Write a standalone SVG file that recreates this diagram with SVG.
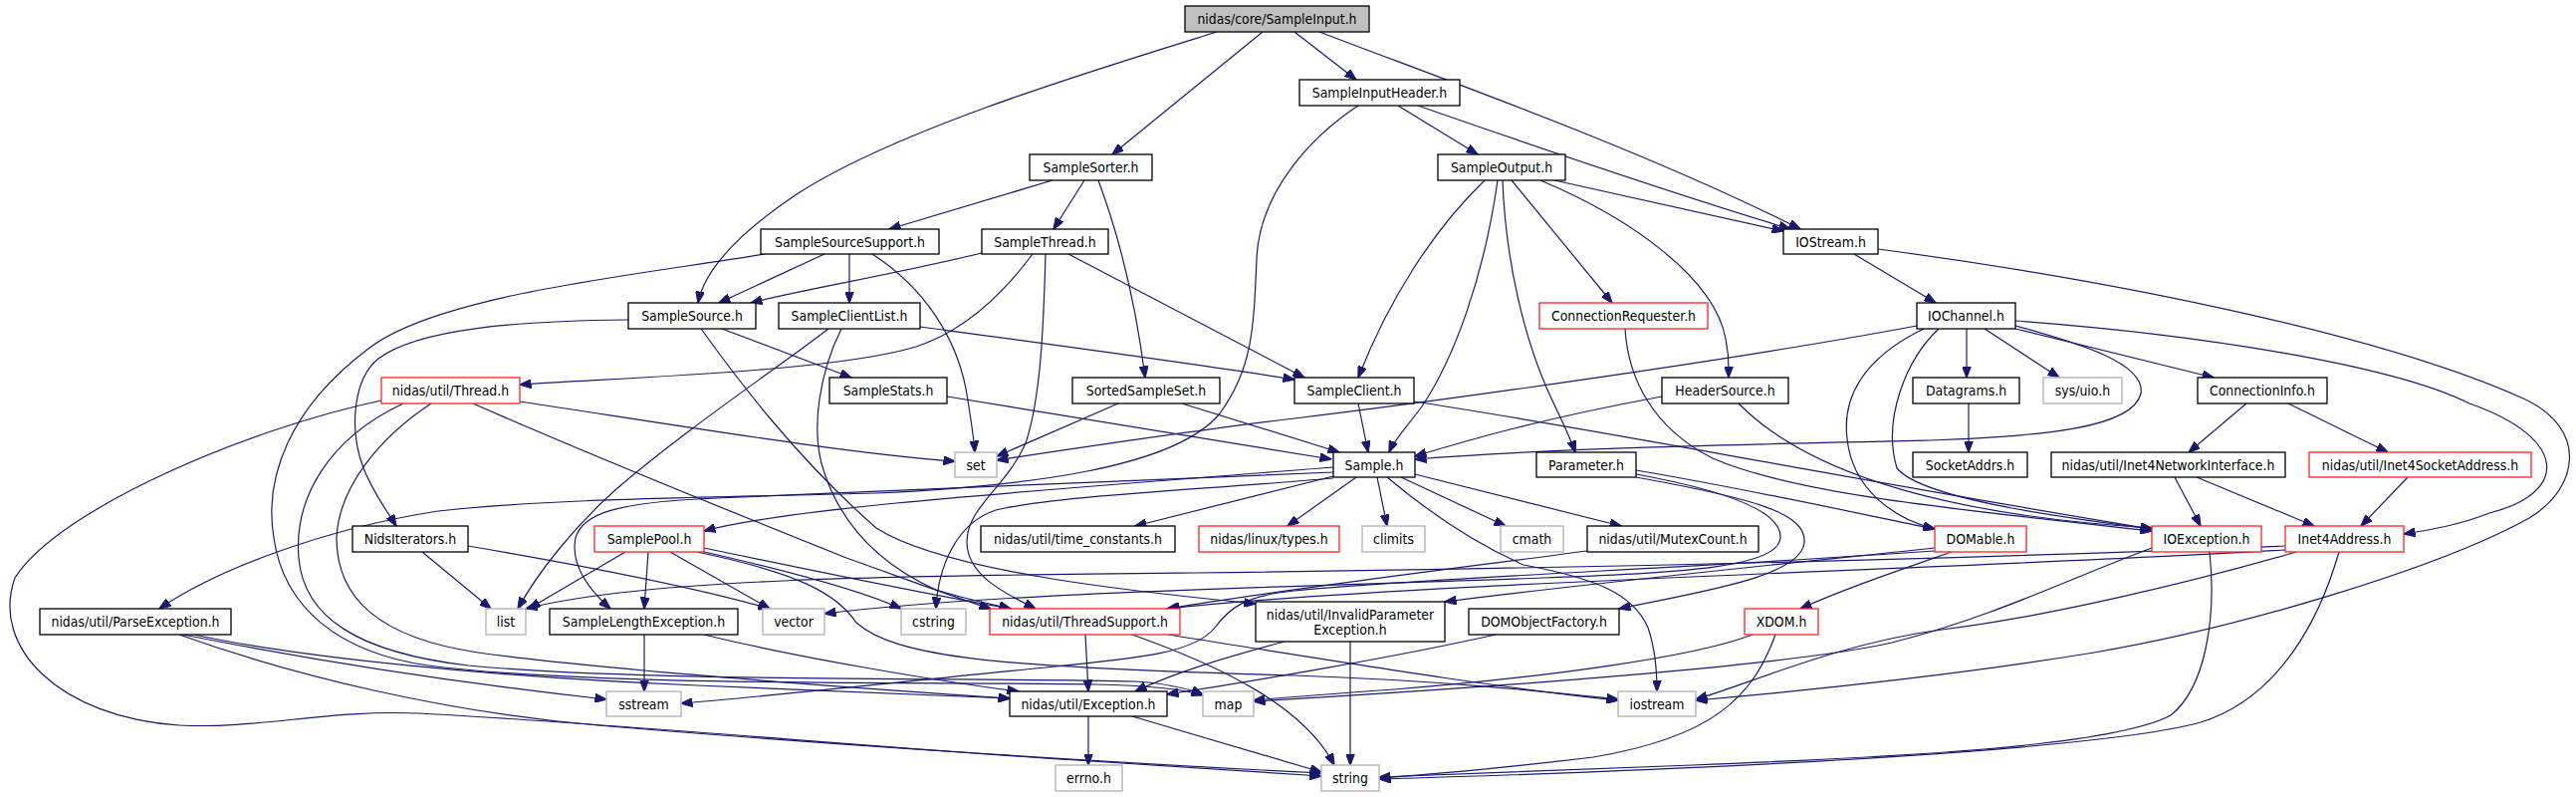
<svg xmlns="http://www.w3.org/2000/svg" width="2587" height="800" viewBox="0 0 2587 800">
<style>
rect{fill:#fff;stroke:#000;stroke-width:1.3}
rect.r{stroke:#ff2020}
rect.s{stroke:#bfbfbf;stroke-width:1.6}
rect.root{fill:#bfbfbf}
text{font-family:"DejaVu Sans","Liberation Sans",sans-serif;font-size:12.5px;fill:#000;text-anchor:middle;dominant-baseline:central;transform-box:fill-box;transform-origin:center;transform:scaleY(1.15)}
#edges path{fill:none;stroke:#191970;stroke-width:1.2;marker-end:url(#a)}
</style>
<defs>
<marker id="a" viewBox="0 0 12 9" refX="11.5" refY="4.5" markerWidth="12" markerHeight="9" orient="auto" markerUnits="userSpaceOnUse">
<path d="M0,0 L12,4.5 L0,9 z" fill="#191970" stroke="#191970" stroke-width="1"/>
</marker>
</defs>
<rect x="0" y="0" width="2587" height="800" style="fill:#fff;stroke:none"/>
<g id="edges">
<path d="M1222,32 C1100,70 900,130 800,195 C745,232 708,268 701,304"/>
<path d="M1268,32 L1117,155"/>
<path d="M1300,32 L1362,80"/>
<path d="M1325,32 C1450,80 1650,150 1808,230"/>
<path d="M1404,106 L1484,155"/>
<path d="M1424,106 C1550,150 1700,200 1798,230"/>
<path d="M1364,106 C1320,135 1265,190 1262,260 C1259,330 1258,370 1225,415 C1180,470 1030,488 880,495 C700,500 560,500 440,513 C330,530 220,570 160,611"/>
<path d="M1057,181 L893,230"/>
<path d="M1089,181 L1058,230"/>
<path d="M1103,181 C1125,240 1140,300 1150,379"/>
<path d="M1561,181 L1791,232"/>
<path d="M1491,181 C1440,230 1395,300 1364,379"/>
<path d="M1504,181 C1490,280 1460,360 1428,408 C1410,432 1400,442 1395,454"/>
<path d="M1509,181 C1512,260 1530,340 1558,400 C1570,425 1578,442 1582,454"/>
<path d="M1518,181 L1619,304"/>
<path d="M1547,181 C1640,220 1722,280 1733,340 C1737,360 1736,370 1736,379"/>
<path d="M828,255 L722,304"/>
<path d="M853,255 L853,304"/>
<path d="M876,255 C930,290 960,340 970,390 C975,420 978,440 979,454"/>
<path d="M768,255 C650,275 440,295 370,350 C290,410 265,480 275,540 C285,610 340,655 430,668 C600,690 950,684 1100,687 C1160,688 1190,692 1208,698"/>
<path d="M986,254 C900,275 800,292 754,304"/>
<path d="M1037,255 C1000,305 960,335 920,348 C840,372 650,378 522,386"/>
<path d="M1050,255 C1048,330 1045,400 1030,445 C1010,490 970,510 971,545 C972,580 1015,598 1040,611"/>
<path d="M1073,255 L1310,379"/>
<path d="M1862,255 L1944,304"/>
<path d="M1886,250 C2150,285 2400,340 2534,400 C2600,430 2590,490 2540,520 C2450,570 2250,630 2103,655 C2000,672 1850,690 1703,703"/>
<path d="M725,330 L855,379"/>
<path d="M631,321 C520,322 420,330 380,360 C355,380 350,430 365,470 C375,495 390,515 398,528"/>
<path d="M704,330 C740,380 800,460 880,530 C950,575 1150,595 1261,606"/>
<path d="M924,328 C1050,345 1200,365 1300,381"/>
<path d="M832,330 C780,370 690,430 620,490 C575,530 540,575 520,611"/>
<path d="M845,330 C825,370 812,430 828,475 C845,525 880,565 940,592 C975,603 1000,607 1015,611"/>
<path d="M1632,330 C1635,380 1660,430 1720,460 C1800,495 1950,510 2161,533"/>
<path d="M1925,327 C1750,360 1450,402 1300,420 C1200,432 1080,450 1001,462"/>
<path d="M2024,327 C2090,345 2155,365 2150,395 C2142,430 2050,438 1937,442 C1750,446 1560,450 1421,461"/>
<path d="M1932,330 C1870,360 1850,400 1855,440 C1860,490 1900,520 1943,531"/>
<path d="M1947,330 C1915,360 1890,420 1905,470 C1930,500 2060,518 2161,531"/>
<path d="M1975,330 L1975,379"/>
<path d="M1993,330 L2068,379"/>
<path d="M2024,330 L2223,379"/>
<path d="M2024,322 C2200,335 2400,365 2480,405 C2580,440 2580,495 2500,515 C2470,527 2440,532 2414,536"/>
<path d="M522,403 C700,430 850,455 959,463"/>
<path d="M475,405 C600,460 750,520 850,560 C920,585 960,600 995,611"/>
<path d="M433,405 C380,440 340,490 338,540 C338,600 380,640 480,655 C600,672 850,690 1014,701"/>
<path d="M405,405 C330,440 295,500 300,560 C305,620 360,655 470,668 C650,685 1000,680 1140,684 C1170,686 1190,690 1208,697"/>
<path d="M383,402 C250,430 60,510 15,580 C-10,650 60,720 180,728 C260,732 330,712 420,716 C600,725 900,752 1080,763 C1200,770 1280,776 1327,779"/>
<path d="M951,398 L1337,461"/>
<path d="M1123,405 L1001,458"/>
<path d="M1187,405 L1345,454"/>
<path d="M1364,405 L1374,454"/>
<path d="M1420,403 C1600,430 1850,480 2161,531"/>
<path d="M1669,398 C1550,420 1480,440 1421,458"/>
<path d="M1746,405 C1830,490 2000,520 2161,530"/>
<path d="M1977,405 L1977,454"/>
<path d="M2256,405 L2198,454"/>
<path d="M2298,405 L2398,454"/>
<path d="M2184,479 L2210,528"/>
<path d="M2206,479 L2324,528"/>
<path d="M2418,479 L2371,528"/>
<path d="M1339,469 C1200,480 1000,495 900,505 C800,515 740,524 707,533"/>
<path d="M1339,474 C1150,482 900,492 720,500 C620,504 585,515 578,540 C572,570 595,595 613,611"/>
<path d="M1339,478 L1140,528"/>
<path d="M1362,479 L1293,528"/>
<path d="M1383,479 L1393,528"/>
<path d="M1407,479 L1512,528"/>
<path d="M1421,476 L1628,528"/>
<path d="M1393,479 C1430,510 1480,545 1530,567 C1600,580 1640,595 1655,630 C1662,650 1664,675 1664,694"/>
<path d="M1339,480 C1200,492 1060,498 1000,512 C960,525 942,570 940,611"/>
<path d="M1643,472 C1750,490 1850,512 1943,531"/>
<path d="M1643,476 C1720,490 1790,510 1788,540 C1786,568 1700,575 1550,580 C1350,588 1000,594 828,616"/>
<path d="M1643,479 C1760,500 1815,515 1812,545 C1808,580 1700,595 1626,611"/>
<path d="M1594,553 C1450,572 1300,590 1172,611"/>
<path d="M1960,554 C1900,575 1850,592 1808,611"/>
<path d="M1943,550 C1800,565 1600,585 1451,604"/>
<path d="M1943,553 C1700,570 1400,582 1300,593 C1250,598 1235,610 1220,630 C1200,655 1150,660 1050,670 C900,685 760,700 684,706"/>
<path d="M2219,554 C2226,620 2215,690 2180,718 C2120,750 1900,760 1700,768 C1550,774 1450,778 1385,780"/>
<path d="M2161,550 C2080,580 2000,620 1900,645 C1800,668 1500,690 1259,704"/>
<path d="M1760,637 C1700,660 1550,680 1400,692 C1330,697 1290,700 1259,703"/>
<path d="M1783,637 C1760,700 1720,740 1600,760 C1500,772 1430,778 1385,781"/>
<path d="M2349,554 C2330,620 2290,700 2210,725 C2120,750 1800,770 1385,782"/>
<path d="M2306,554 C2200,585 2050,620 1950,632 C1850,645 1760,685 1703,702"/>
<path d="M2295,548 C2000,560 1600,570 1200,575 C900,578 650,580 528,611"/>
<path d="M2295,552 C2000,570 1400,585 1173,611"/>
<path d="M1090,637 L1093,694"/>
<path d="M1137,637 C1230,670 1310,710 1340,768"/>
<path d="M1173,637 C1350,665 1500,690 1625,703"/>
<path d="M1290,644 C1230,660 1180,675 1140,694"/>
<path d="M1356,644 L1356,768"/>
<path d="M1502,637 C1400,660 1250,685 1172,697"/>
<path d="M707,637 C800,660 950,685 1023,694"/>
<path d="M647,637 L647,694"/>
<path d="M184,637 C350,670 500,690 609,702"/>
<path d="M195,637 C300,660 500,680 700,688 C850,694 950,698 1014,701"/>
<path d="M180,637 C300,680 450,715 600,728 C800,745 1100,765 1327,776"/>
<path d="M1093,719 L1093,768"/>
<path d="M1137,719 L1327,775"/>
<path d="M424,554 L493,611"/>
<path d="M470,548 C600,570 700,590 773,611"/>
<path d="M628,554 L531,611"/>
<path d="M651,554 L647,611"/>
<path d="M673,554 L773,611"/>
<path d="M703,553 C800,575 870,595 905,611"/>
<path d="M707,550 C850,580 950,600 1015,611"/>
<path d="M700,554 C800,575 840,595 860,625 C900,660 1000,670 1300,678 C1450,683 1560,695 1625,702"/>
</g>
<g id="n-root"><rect class="root" x="1190" y="6" width="185" height="26"/><text x="1282.5" y="19">nidas/core/SampleInput.h</text></g>
<g id="n-SampleInputHeader"><rect x="1305" y="80" width="161" height="26"/><text x="1385.5" y="93">SampleInputHeader.h</text></g>
<g id="n-SampleSorter"><rect x="1034" y="155" width="123" height="26"/><text x="1095.5" y="168">SampleSorter.h</text></g>
<g id="n-SampleOutput"><rect x="1444" y="155" width="128" height="26"/><text x="1508" y="168">SampleOutput.h</text></g>
<g id="n-SampleSourceSupport"><rect x="764" y="230" width="179" height="25"/><text x="853.5" y="242.5">SampleSourceSupport.h</text></g>
<g id="n-SampleThread"><rect x="986" y="230" width="127" height="25"/><text x="1049.5" y="242.5">SampleThread.h</text></g>
<g id="n-IOStream"><rect x="1791" y="230" width="95" height="25"/><text x="1838.5" y="242.5">IOStream.h</text></g>
<g id="n-SampleSource"><rect x="631" y="304" width="128" height="26"/><text x="695" y="317">SampleSource.h</text></g>
<g id="n-SampleClientList"><rect x="782" y="304" width="142" height="26"/><text x="853" y="317">SampleClientList.h</text></g>
<g id="n-ConnectionRequester"><rect class="r" x="1546" y="304" width="169" height="26"/><text x="1630.5" y="317">ConnectionRequester.h</text></g>
<g id="n-IOChannel"><rect x="1925" y="304" width="99" height="26"/><text x="1974.5" y="317">IOChannel.h</text></g>
<g id="n-Thread"><rect class="r" x="383" y="379" width="139" height="26"/><text x="452.5" y="392">nidas/util/Thread.h</text></g>
<g id="n-SampleStats"><rect x="833" y="379" width="118" height="26"/><text x="892" y="392">SampleStats.h</text></g>
<g id="n-SortedSampleSet"><rect x="1077" y="379" width="148" height="26"/><text x="1151" y="392">SortedSampleSet.h</text></g>
<g id="n-SampleClient"><rect x="1300" y="379" width="120" height="26"/><text x="1360" y="392">SampleClient.h</text></g>
<g id="n-HeaderSource"><rect x="1669" y="379" width="127" height="26"/><text x="1732.5" y="392">HeaderSource.h</text></g>
<g id="n-Datagrams"><rect x="1921" y="379" width="107" height="26"/><text x="1974.5" y="392">Datagrams.h</text></g>
<g id="n-sysuio"><rect class="s" x="2052" y="379" width="79" height="26"/><text x="2091.5" y="392">sys/uio.h</text></g>
<g id="n-ConnectionInfo"><rect x="2207" y="379" width="130" height="26"/><text x="2272" y="392">ConnectionInfo.h</text></g>
<g id="n-set"><rect class="s" x="959" y="454" width="42" height="25"/><text x="980" y="466.5">set</text></g>
<g id="n-Sample"><rect x="1339" y="454" width="82" height="25"/><text x="1380" y="466.5">Sample.h</text></g>
<g id="n-Parameter"><rect x="1543" y="454" width="100" height="25"/><text x="1593" y="466.5">Parameter.h</text></g>
<g id="n-SocketAddrs"><rect x="1921" y="454" width="115" height="25"/><text x="1978.5" y="466.5">SocketAddrs.h</text></g>
<g id="n-Inet4NetworkInterface"><rect x="2060" y="454" width="235" height="25"/><text x="2177.5" y="466.5">nidas/util/Inet4NetworkInterface.h</text></g>
<g id="n-Inet4SocketAddress"><rect class="r" x="2319" y="454" width="223" height="25"/><text x="2430.5" y="466.5">nidas/util/Inet4SocketAddress.h</text></g>
<g id="n-NidsIterators"><rect x="354" y="528" width="116" height="26"/><text x="412" y="541">NidsIterators.h</text></g>
<g id="n-SamplePool"><rect class="r" x="597" y="528" width="110" height="26"/><text x="652" y="541">SamplePool.h</text></g>
<g id="n-time_constants"><rect x="985" y="528" width="195" height="26"/><text x="1082.5" y="541">nidas/util/time_constants.h</text></g>
<g id="n-linux_types"><rect class="r" x="1204" y="528" width="141" height="26"/><text x="1274.5" y="541">nidas/linux/types.h</text></g>
<g id="n-climits"><rect class="s" x="1368" y="528" width="63" height="26"/><text x="1399.5" y="541">climits</text></g>
<g id="n-cmath"><rect class="s" x="1507" y="528" width="63" height="26"/><text x="1538.5" y="541">cmath</text></g>
<g id="n-MutexCount"><rect x="1594" y="528" width="172" height="26"/><text x="1680" y="541">nidas/util/MutexCount.h</text></g>
<g id="n-DOMable"><rect class="r" x="1943" y="528" width="92" height="26"/><text x="1989" y="541">DOMable.h</text></g>
<g id="n-IOException"><rect class="r" x="2161" y="528" width="110" height="26"/><text x="2216" y="541">IOException.h</text></g>
<g id="n-Inet4Address"><rect class="r" x="2295" y="528" width="119" height="26"/><text x="2354.5" y="541">Inet4Address.h</text></g>
<g id="n-ParseException"><rect x="40" y="611" width="192" height="26"/><text x="136" y="624">nidas/util/ParseException.h</text></g>
<g id="n-list"><rect class="s" x="488" y="611" width="40" height="26"/><text x="508" y="624">list</text></g>
<g id="n-SampleLengthException"><rect x="552" y="611" width="189" height="26"/><text x="646.5" y="624">SampleLengthException.h</text></g>
<g id="n-vector"><rect class="s" x="766" y="611" width="62" height="26"/><text x="797" y="624">vector</text></g>
<g id="n-cstring"><rect class="s" x="905" y="611" width="65" height="26"/><text x="937.5" y="624">cstring</text></g>
<g id="n-ThreadSupport"><rect class="r" x="994" y="611" width="191" height="26"/><text x="1089.5" y="624">nidas/util/ThreadSupport.h</text></g>
<g id="n-InvalidParameterException"><rect x="1261" y="604" width="190" height="40"/><text x="1356" y="616.5">nidas/util/InvalidParameter</text><text x="1356" y="631.5">Exception.h</text></g>
<g id="n-DOMObjectFactory"><rect x="1475" y="611" width="151" height="26"/><text x="1550.5" y="624">DOMObjectFactory.h</text></g>
<g id="n-XDOM"><rect class="r" x="1752" y="611" width="74" height="26"/><text x="1789" y="624">XDOM.h</text></g>
<g id="n-sstream"><rect class="s" x="609" y="694" width="75" height="25"/><text x="646.5" y="706.5">sstream</text></g>
<g id="n-Exception"><rect x="1014" y="694" width="158" height="25"/><text x="1093" y="706.5">nidas/util/Exception.h</text></g>
<g id="n-map"><rect class="s" x="1208" y="694" width="51" height="25"/><text x="1233.5" y="706.5">map</text></g>
<g id="n-iostream"><rect class="s" x="1625" y="694" width="78" height="25"/><text x="1664" y="706.5">iostream</text></g>
<g id="n-errno"><rect class="s" x="1060" y="768" width="67" height="26"/><text x="1093.5" y="781">errno.h</text></g>
<g id="n-string"><rect class="s" x="1327" y="768" width="58" height="26"/><text x="1356" y="781">string</text></g>
</svg>
